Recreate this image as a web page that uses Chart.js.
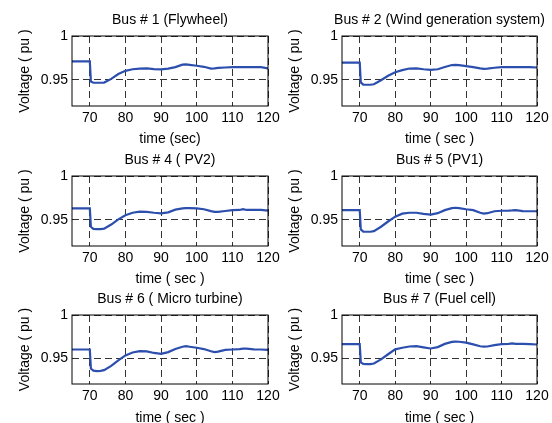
<!DOCTYPE html>
<html>
<head>
<meta charset="utf-8">
<script src="https://cdn.jsdelivr.net/npm/chart.js@4/dist/chart.umd.min.js"></script>
<style>
  body { margin: 0; background: #fff; }
  #wrap { position: relative; width: 552px; height: 423px; overflow: hidden; background: #fff; }
  #wrap canvas { position: absolute; }
</style>
</head>
<body>
<div id="wrap"></div>
<script>
// temps commun (s)
const time = [65, 70, 70.3, 71, 72, 73, 74, 76, 78, 80, 82, 84, 86, 88, 90, 92, 94, 96, 97, 98, 100,
  102, 104, 105, 106, 108, 110, 112, 113, 114, 116, 118, 120];

// tensions (pu)
const bus1 = [.971, .971, .948, .9466, .9466, .9466, .9468, .951, .9565, .9602, .962, .9628, .963, .9622, .9618,
  .9628, .9645, .9672, .9675, .967, .966, .9648, .9628, .963, .9636, .964, .9645, .9645, .9645, .9645, .9645, .9645, .963];
const bus2 = [.9695, .9695, .947, .9445, .9443, .9443, .9448, .9495, .9545, .9585, .961, .9628, .963, .962, .9613,
  .962, .9645, .9668, .967, .9668, .9656, .9645, .963, .9625, .9627, .9637, .9645, .9645, .9645, .9645, .9645, .9645, .964];
const bus4 = [.963, .963, .942, .9395, .9393, .9393, .9398, .9445, .9505, .9552, .958, .9593, .959, .958, .9573,
  .9585, .9615, .963, .9632, .9633, .963, .962, .9598, .959, .959, .96, .961, .9612, .9622, .9612, .9612, .9612, .9605];
const bus5 = [.961, .961, .939, .9365, .9363, .9363, .937, .942, .948, .9535, .957, .958, .958, .9568, .9558,
  .9575, .961, .9632, .9637, .9632, .962, .961, .958, .957, .9575, .9597, .9603, .9605, .9607, .961, .9598, .9597, .9597];
const bus6 = [.96, .96, .938, .9355, .935, .9352, .936, .941, .9475, .9532, .9565, .958, .9578, .956, .955,
  .957, .9605, .9632, .9638, .9632, .962, .9605, .958, .957, .9575, .9595, .96, .9605, .961, .961, .9602, .96, .9596];
const bus7 = [.9662, .9662, .945, .9432, .943, .943, .9438, .9485, .9545, .9602, .962, .9635, .9638, .9625, .9612,
  .9628, .9665, .9688, .9692, .969, .968, .966, .9638, .9633, .9635, .965, .9662, .9665, .967, .9665, .9665, .9662, .9658];

const xTicks = [70, 80, 90, 100, 110, 120];
const yTicks = [0.95, 1];
const yTickLabels = ['0.95', '1'];

const titles = ['Bus # 1 (Flywheel)', 'Bus # 2 (Wind generation system)', 'Bus # 4 ( PV2)',
  'Bus # 5 (PV1)', 'Bus # 6 ( Micro turbine)', 'Bus # 7 (Fuel cell)'];
const xTitles = ['time (sec)', 'time ( sec )', 'time ( sec )', 'time ( sec )', 'time ( sec )', 'time ( sec )'];
const series = [bus1, bus2, bus4, bus5, bus6, bus7];

const FONT = '"Liberation Sans", Arial, Helvetica, sans-serif';

// géométrie des colonnes / lignes
const cols = [
  { left: 0, width: 300, yWidth: 72, padRight: 32, yTitlePad: 16.9 },
  { left: 276, width: 276, yWidth: 66, padRight: 15, yTitlePad: 10.8 }
];
const rows = [
  { top: 6, plotH: 70 },
  { top: 146, plotH: 70 },
  { top: 285, plotH: 69 }
];
const CANVAS_H = 150;
const PLOT_TOP = 30;

// cadre noir autour de la zone de tracé + titre centré sur la zone (sans compression)
const boxPlugin = {
  id: 'box',
  afterLayout(chart) {
    const tb = chart.titleBlock;
    const a = chart.chartArea;
    if (tb && a) {
      const c = (a.left + a.right) / 2;
      tb.left = c - 170;
      tb.right = c + 170;
      tb.width = 340;
    }
  },
  afterDatasetsDraw(chart) {
    const { ctx, chartArea: a } = chart;
    ctx.save();
    ctx.strokeStyle = '#000';
    ctx.lineWidth = 1;
    ctx.setLineDash([]);
    ctx.strokeRect(a.left, a.top, a.right - a.left, a.bottom - a.top);
    ctx.restore();
  }
};

const wrap = document.getElementById('wrap');

series.forEach(function(values, i) {
  const col = cols[i % 2];
  const row = rows[Math.floor(i / 2)];
  const canvas = document.createElement('canvas');
  canvas.width = col.width;
  canvas.height = CANVAS_H;
  canvas.style.left = col.left + 'px';
  canvas.style.top = row.top + 'px';
  wrap.appendChild(canvas);

  const xHeight = CANVAS_H - PLOT_TOP - row.plotH;

  new Chart(canvas.getContext('2d'), {
    type: 'line',
    data: {
      datasets: [{
        data: time.map((t, k) => ({ x: t, y: values[k] })),
        borderColor: '#2C4FAE',
        borderWidth: 2.2,
        pointRadius: 0,
        tension: 0,
        fill: false
      }]
    },
    options: {
      responsive: false,
      animation: false,
      devicePixelRatio: 1,
      layout: { padding: { left: 0, right: col.padRight, top: 0, bottom: 0 } },
      plugins: {
        legend: { display: false },
        tooltip: { enabled: false },
        title: {
          display: true,
          text: titles[i],
          fullSize: false,
          color: '#000',
          font: { family: FONT, size: 14, weight: 'normal' },
          padding: { top: 5.6, bottom: 7.6 }
        }
      },
      scales: {
        x: {
          type: 'linear',
          min: 65,
          max: 120,
          afterBuildTicks: s => { s.ticks = xTicks.map(v => ({ value: v })); },
          afterFit: s => { s.height = xHeight; s.paddingLeft = 0; s.paddingRight = 0; },
          ticks: {
            color: '#000',
            font: { family: FONT, size: 14 },
            padding: 4,
            maxRotation: 0,
            autoSkip: false,
            callback: v => String(v)
          },
          grid: { color: '#333', lineWidth: 1, drawTicks: false },
          border: { display: false, dash: [7, 4] },
          title: {
            display: true,
            text: xTitles[i],
            color: '#000',
            font: { family: FONT, size: 14 },
            padding: { top: 0, bottom: 8.6 }
          }
        },
        y: {
          min: 0.92,
          max: 1,
          afterBuildTicks: s => { s.ticks = yTicks.map(v => ({ value: v })); },
          afterFit: s => { s.width = col.yWidth; s.paddingTop = 0; s.paddingBottom = 0; },
          ticks: {
            color: '#000',
            font: { family: FONT, size: 14 },
            padding: 4,
            callback: v => yTickLabels[yTicks.indexOf(v)]
          },
          grid: { color: '#333', lineWidth: 1, drawTicks: false },
          border: { display: false, dash: [7, 4] },
          title: {
            display: true,
            text: 'Voltage ( pu )',
            color: '#000',
            font: { family: FONT, size: 14 },
            padding: { top: col.yTitlePad, bottom: 0 }
          }
        }
      }
    },
    plugins: [boxPlugin]
  });
});
</script>
</body>
</html>
